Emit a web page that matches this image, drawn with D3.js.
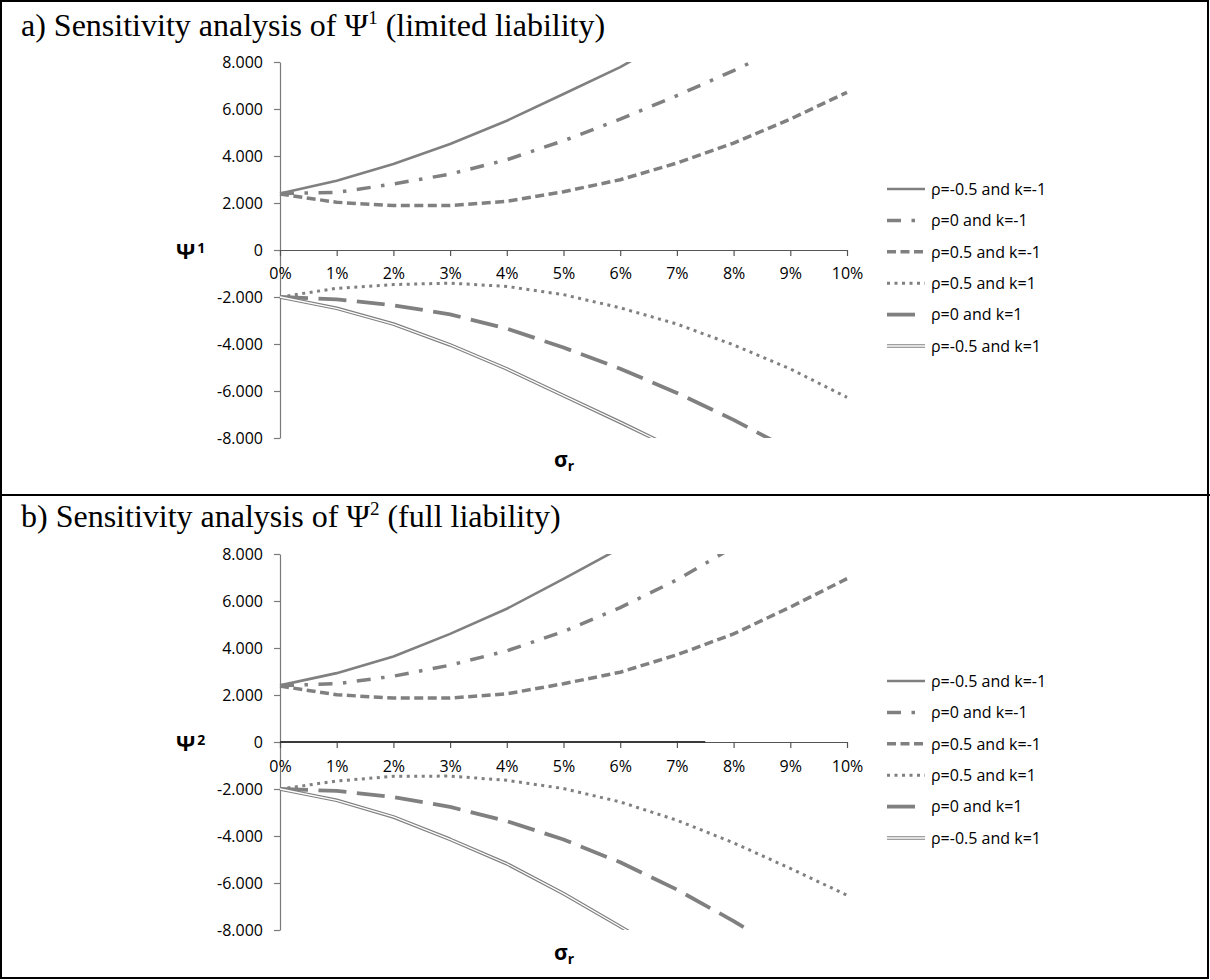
<!DOCTYPE html>
<html>
<head>
<meta charset="utf-8">
<script src="https://cdn.jsdelivr.net/npm/d3@7"></script>
<style>
  html, body { margin: 0; padding: 0; background: #fff; }
  svg { display: block; }
</style>
</head>
<body>
<svg id="chart" width="1210" height="980"></svg>
<script>
// ---------- data ----------
const sigma = [0, 1, 2, 3, 4, 5, 6, 7, 8, 9, 10];           // sigma_r in %
const xTickLabels = ["0%","1%","2%","3%","4%","5%","6%","7%","8%","9%","10%"];
const yTickValues = [-8000, -6000, -4000, -2000, 0, 2000, 4000, 6000, 8000];
const seriesNames = ["ρ=-0.5 and k=-1", "ρ=0 and k=-1", "ρ=0.5 and k=-1",
                     "ρ=0.5 and k=1", "ρ=0 and k=1", "ρ=-0.5 and k=1"];

// Panel a: Psi^1 (limited liability)
const psi1_rhoM05_kM1 = [2400, 2950, 3660, 4510, 5500, 6640, 7780, 9150, null, null, null];
const psi1_rho0_kM1   = [2400, 2450, 2810, 3230, 3840, 4650, 5570, 6570, 7630, 8780, null];
const psi1_rho05_kM1  = [2380, 2030, 1890, 1890, 2070, 2480, 2990, 3700, 4550, 5570, 6710];
const psi1_rho05_k1   = [-2000, -1630, -1470, -1410, -1550, -1900, -2460, -3150, -4040, -5060, -6270];
const psi1_rho0_k1    = [-2000, -2100, -2350, -2740, -3340, -4150, -5050, -6080, -7230, -8500, null];
const psi1_rhoM05_k1  = [-2000, -2480, -3150, -4040, -5060, -6200, -7330, -8500, null, null, null];

// Panel b: Psi^2 (full liability)
const psi2_rhoM05_kM1 = [2410, 2930, 3640, 4600, 5670, 6940, 8250, null, null, null, null];
const psi2_rho0_kM1   = [2400, 2480, 2800, 3270, 3880, 4700, 5720, 6900, 8300, null, null];
const psi2_rho05_kM1  = [2380, 2010, 1870, 1870, 2050, 2480, 2970, 3710, 4600, 5740, 6950];
const psi2_rho05_k1   = [-2000, -1660, -1460, -1450, -1630, -1980, -2550, -3330, -4290, -5380, -6520];
const psi2_rho0_k1    = [-2000, -2080, -2340, -2760, -3370, -4150, -5120, -6280, -7620, -9100, null];
const psi2_rhoM05_k1  = [-2000, -2480, -3190, -4140, -5180, -6450, -7850, -9300, null, null, null];
// extra zero series visible in panel b (x in %, value)
const psi2_zeroX = [0, 7.5];
const psi2_zeroY = [0, 0];

// ---------- styles ----------
const GRAY = "#808080";
const lineStyles = [
  { w: 2.6, dash: null },
  { w: 3.5, dash: "14,10.5,3.5,10.5" },
  { w: 3.5, dash: "9,4.5" },
  { w: 3,   dash: "3,4.5" },
  { w: 3.8, dash: "28,10.5" },
  { w: 3.6, dash: null, dbl: true }
];

const fmtLocale = d3.formatLocale({decimal: ",", thousands: ".", grouping: [3], currency: ["", ""], minus: "-"});
const fmt = fmtLocale.format(",");

const svg = d3.select("#chart");

// frame
svg.append("rect").attr("x", 1).attr("y", 1).attr("width", 1207).attr("height", 977)
  .attr("fill", "none").attr("stroke", "#000").attr("stroke-width", 2);
svg.append("line").attr("x1", 0).attr("x2", 1210).attr("y1", 495).attr("y2", 495)
  .attr("stroke", "#000").attr("stroke-width", 2);

const panels = [
  { key: "a", top: 62, bottom: 438, titleY: 36, titlePre: "a) Sensitivity analysis of Ψ", sup: "1",
    titlePost: " (limited liability)", yLab: "1",
    data: [psi1_rhoM05_kM1, psi1_rho0_kM1, psi1_rho05_kM1, psi1_rho05_k1, psi1_rho0_k1, psi1_rhoM05_k1],
    zero: null },
  { key: "b", top: 554, bottom: 930, titleY: 527, titlePre: "b) Sensitivity analysis of Ψ", sup: "2",
    titlePost: " (full liability)", yLab: "2",
    data: [psi2_rhoM05_kM1, psi2_rho0_kM1, psi2_rho05_kM1, psi2_rho05_k1, psi2_rho0_k1, psi2_rhoM05_k1],
    zero: psi2_zeroX.map((x, i) => [x, psi2_zeroY[i]]) }
];

panels.forEach(p => {
  const g = svg.append("g");

  // title
  const t = g.append("text").attr("x", 21).attr("y", p.titleY)
    .attr("font-family", "'Liberation Serif', 'Times New Roman', serif")
    .attr("font-size", 32).attr("fill", "#000");
  t.append("tspan").text(p.titlePre);
  t.append("tspan").attr("font-size", 19).attr("dy", -12).text(p.sup);
  t.append("tspan").attr("dy", 12).text(p.titlePost);

  const x = d3.scaleLinear().domain([0, 10]).range([280, 847]);
  const y = d3.scaleLinear().domain([-8000, 8000]).range([p.bottom, p.top]);

  // y axis
  const ya = g.append("g").attr("transform", "translate(280,0)")
    .call(d3.axisLeft(y).tickValues(yTickValues).tickSize(6).tickSizeOuter(0).tickPadding(11).tickFormat(fmt));
  ya.selectAll("path,line").attr("stroke", "#7a7a7a").attr("stroke-width", 1.2);
  ya.selectAll("text").attr("font-family", "'Open Sans', sans-serif").attr("font-size", 16)
    .attr("fill", "#000").attr("dy", "0.36em");

  // x axis at 0
  const xa = g.append("g").attr("transform", `translate(0,${y(0)})`)
    .call(d3.axisBottom(x).tickValues(sigma).tickSize(6).tickSizeOuter(0)
      .tickFormat((d, i) => xTickLabels[i]));
  xa.selectAll("path,line").attr("stroke", "#555").attr("stroke-width", 1.2);
  xa.selectAll("text").attr("font-family", "'Open Sans', sans-serif").attr("font-size", 16)
    .attr("fill", "#000").attr("y", p.key === "a" ? 29 : 30).attr("dy", 0);

  // axis titles
  const yt = g.append("text").attr("x", 176).attr("y", y(0) + 9)
    .attr("font-family", "'Open Sans', sans-serif").attr("font-weight", 700)
    .attr("font-size", 22).attr("fill", "#000");
  yt.append("tspan").text("Ψ");
  yt.append("tspan").attr("font-size", 14).attr("dy", -6).attr("dx", 2).text(p.yLab);

  const xt = g.append("text").attr("x", 554).attr("y", p.bottom + (p.key === "a" ? 29 : 30))
    .attr("font-family", "'Open Sans', sans-serif").attr("font-weight", 700)
    .attr("font-size", 21).attr("fill", "#000");
  xt.append("tspan").text("σ");
  xt.append("tspan").attr("font-size", 14).attr("dy", 4).text("r");

  // clip
  const clipId = "clip-" + p.key;
  svg.append("clipPath").attr("id", clipId).append("rect")
    .attr("x", 270).attr("y", p.top).attr("width", 600).attr("height", p.bottom - p.top);

  const plot = g.append("g").attr("clip-path", `url(#${clipId})`);
  const line = d3.line().defined(d => d[1] !== null).x(d => x(d[0])).y(d => y(d[1]));

  if (p.zero) {
    plot.append("path").attr("d", line(p.zero)).attr("fill", "none")
      .attr("stroke", "#3a3a3a").attr("stroke-width", 1.8);
  }

  p.data.forEach((vals, i) => {
    const pts = sigma.map((s, j) => [s, vals[j]]);
    const st = lineStyles[i];
    const path = plot.append("path").attr("d", line(pts)).attr("fill", "none")
      .attr("stroke", GRAY).attr("stroke-width", st.w).attr("stroke-linejoin", "round");
    if (st.dash) path.attr("stroke-dasharray", st.dash);
    if (st.dbl) {
      plot.append("path").attr("d", line(pts)).attr("fill", "none")
        .attr("stroke", "#fff").attr("stroke-width", 1.3);
    }
  });

  // legend
  const lg = g.append("g");
  seriesNames.forEach((name, i) => {
    const ly = p.top + 127 + i * 31.4;
    const st = lineStyles[i];
    const l = lg.append("line").attr("x1", 887).attr("x2", 925).attr("y1", ly).attr("y2", ly)
      .attr("stroke", GRAY).attr("stroke-width", st.w);
    if (st.dash) l.attr("stroke-dasharray", st.dash);
    if (st.dbl) {
      lg.append("line").attr("x1", 887).attr("x2", 925).attr("y1", ly).attr("y2", ly)
        .attr("stroke", "#fff").attr("stroke-width", 1.3);
    }
    lg.append("text").attr("x", 931).attr("y", ly).attr("dy", "0.36em")
      .attr("font-family", "'Open Sans', sans-serif").attr("font-size", 16).attr("fill", "#000")
      .text(name);
  });
});
</script>
</body>
</html>
